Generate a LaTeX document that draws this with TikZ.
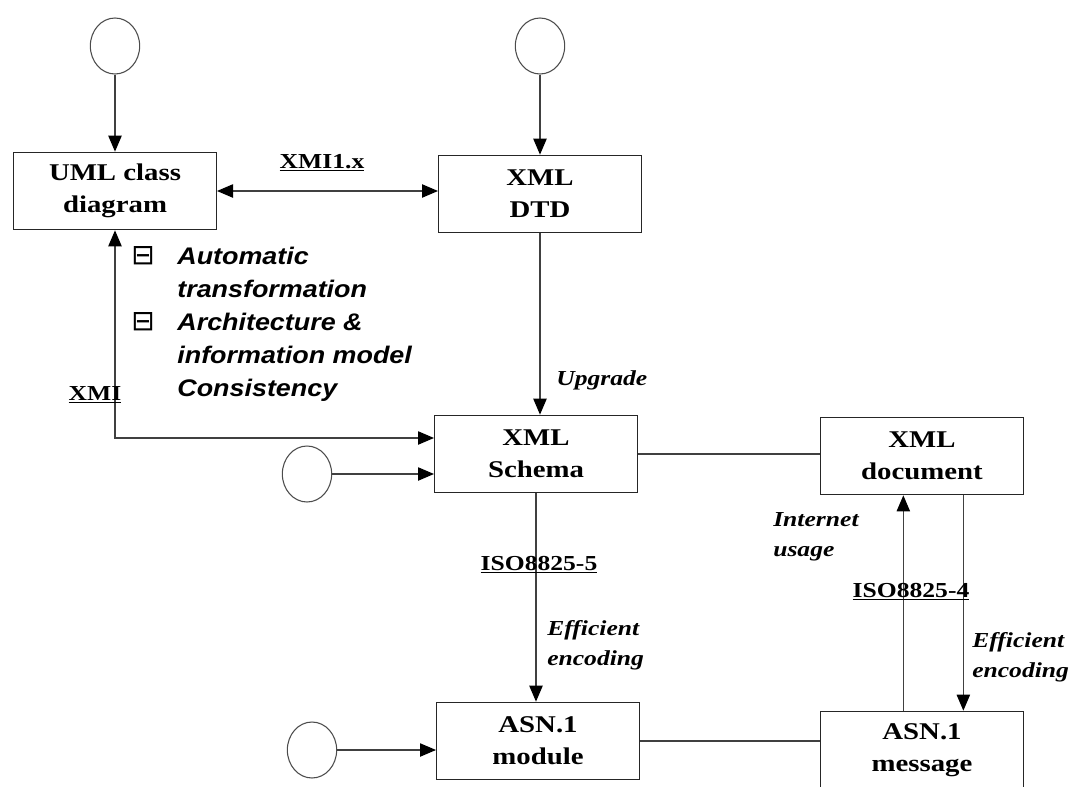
\documentclass[tikz,border=0pt]{standalone}
\usepackage{fontspec}
\setmainfont{Liberation Serif}[FakeStretch=1.2]
\newfontfamily\notefont{Liberation Sans}[FakeStretch=1.12]
\newfontfamily\tickfont{DejaVu Sans}
\usetikzlibrary{arrows.meta}
\usetikzlibrary{shapes.geometric}
\newcommand{\stdname}[1]{\underline{#1}}

\begin{document}
\begin{tikzpicture}[x=0.75pt,y=-0.75pt,
    >={Triangle[length=12pt,width=10pt,fill=black,color=black]},
    line/.style={draw=black!75, line width=0.9pt},
    box/.style={draw=black!85, line width=1pt, minimum width=152pt, minimum height=58pt,
      align=center, font=\bfseries\fontsize{18}{24}\selectfont},
    blob/.style={ellipse, draw=black!70, line width=0.8pt, minimum width=37pt,
      minimum height=42pt, inner sep=0pt},
    tag/.style={align=left, inner sep=0pt, font=\bfseries\itshape\fontsize{16}{22.5}\selectfont},
    std/.style={inner sep=1pt, font=\bfseries\fontsize{16}{20}\selectfont}]
    \useasboundingbox (0,0) rectangle (1077,786);

    % start points
    \node[blob] (ouml) at (115,46) {};
    \node[blob] (odtd) at (540,46) {};
    \node[blob] (oxsd) at (307,474) {};
    \node[blob] (oasn) at (312,750) {};

    % models
    \node[box] (uml) at (115,191) {UML class\\diagram};
    \node[box] (dtd) at (540,194) {XML\\DTD};
    \node[box] (xsd) at (536,454) {XML\\Schema};
    \node[box] (xdoc) at (922,456) {XML\\document};
    \node[box] (asnm) at (538,741) {ASN.1\\module};
    \node[box] (asnmsg) at (922,750) {ASN.1\\message};

    \draw[line,->] (ouml) -- (uml);
    \draw[line,->] (odtd) -- (dtd);
    \draw[line,<->] (uml.east) -- (uml.east -| dtd.west);
    \draw[line,->] (dtd) -- (dtd |- xsd.north);
    \draw[line,<->] (uml) |- ([yshift=12pt]xsd.west);
    \draw[line,->] (oxsd) -- (oxsd -| xsd.west);
    \draw[line] (xsd) -- (xsd -| xdoc.west);
    \draw[line,->] (xsd) -- (xsd |- asnm.north);
    \draw[line,->] (oasn) -- (oasn -| asnm.west);
    \draw[line] (asnm) -- (asnm -| asnmsg.west);
    \draw[line,->] ([xshift=-14pt]asnmsg.north) -- ([xshift=-14pt]xdoc.south);
    \draw[line,->] ([xshift=31pt]xdoc.south) -- ([xshift=31pt]asnmsg.north);

    % labels
    \node[std] (xmix) at (322,163) {\stdname{XMI1.x}};
    \node[std] (xmi) at (95,395) {\stdname{XMI}};
    \node[std] (iso5) at (539,565) {\stdname{ISO8825-5}};
    \node[std] (iso4) at (911,592) {\stdname{ISO8825-4}};
    \node[tag, anchor=west] (upg) at (556,380) {Upgrade};
    \node[tag, anchor=west] (enc5) at (547,645) {Efficient\\encoding};
    \node[tag, anchor=west] (web) at (773,537) {Internet\\usage};
    \node[tag, anchor=west] (enc4) at (972,657) {Efficient\\encoding};
    \node[anchor=north west, inner sep=0pt,
      font=\notefont\bfseries\itshape\fontsize{18}{24.75}\selectfont] (notes) at (131,241)
      {\begin{tabular}{@{}l@{\hspace{17pt}}l@{}}
        {\tickfont\mdseries\upshape\fontsize{21}{21}\selectfont ⊟} & Automatic\\
        & transformation\\
        {\tickfont\mdseries\upshape\fontsize{21}{21}\selectfont ⊟} & Architecture \&\\
        & information model\\
        & Consistency
      \end{tabular}};
  \end{tikzpicture}
\end{document}
